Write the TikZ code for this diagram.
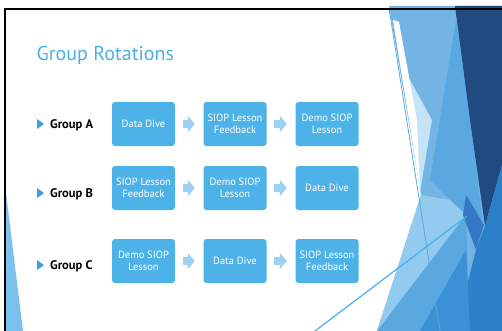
\documentclass[tikz,border=0pt]{standalone}
\usepackage{fontspec}
\setmainfont{PT Sans}
\usetikzlibrary{arrows.meta}
\definecolor{boxblue}{HTML}{4DB2E8}
\definecolor{arrowblue}{HTML}{9DD1F2}
\definecolor{titleblue}{HTML}{4EAEE8}
\definecolor{bulletblue}{HTML}{3F9DE1}
\definecolor{facetlight}{HTML}{74B4E4}
\definecolor{facetmid}{HTML}{5AA8E0}
\definecolor{facetnavy}{HTML}{214A80}
\definecolor{facetpale}{HTML}{C5E3F6}
\definecolor{facetsky}{HTML}{92CBEF}
\definecolor{facetroyal}{HTML}{3478C6}
\definecolor{facetsteel}{HTML}{2B80C8}
\definecolor{facetdeep}{HTML}{3B90D6}
\definecolor{facetleft}{HTML}{7CC0EC}
\tikzset{every node/.style={font=\small},line cap=round,line join=round}

\begin{document}
\begin{tikzpicture}[x=1pt,y=-1pt,
    stepbox/.style={fill=boxblue,rounded corners=3pt,minimum width=63pt,minimum height=44pt,
      inner sep=0pt,text=white,align=center,font=\fontsize{10.5}{12.5}\selectfont},
    flow/.style={draw=arrowblue,line width=8pt,line cap=butt,
      -{Triangle[length=7pt,width=16pt]},shorten <=7.5pt,shorten >=8.5pt},
    rowlabel/.style={anchor=base west,inner sep=0pt,font=\fontsize{12.5}{14}\selectfont\bfseries}]
  \path[use as bounding box] (0,0) rectangle (502,331);

  % facets on the right
  \fill[facetlight] (389,6) -- (502,6) -- (502,331) -- (377,331) -- (421,195) -- cycle;
  \fill[facetpale] (410,80) -- (432,120) -- (420,192) -- cycle;
  \fill[white] (393,20) -- (399,22) -- (417,120) -- (420,190) -- cycle;
  \fill[facetmid] (456,20) -- (470,120) -- (483,223) -- (465,215) -- (430,180) -- cycle;
  \fill[facetsky] (421,195) -- (450,200) -- (466,215) -- (377,331) -- cycle;
  \fill[facetmid] (377,331) -- (466,215) -- (470,331) -- cycle;
  \fill[facetnavy] (455,6) -- (502,6) -- (502,165) -- (485,226) -- (470,120) -- cycle;
  \fill[facetroyal] (466,195) -- (484,225) -- (476,250) -- (463,215) -- cycle;
  \fill[facetsteel] (485,226) -- (502,165) -- (502,331) -- (455,331) -- (476,250) -- cycle;
  \fill[facetdeep] (420,331) -- (466,250) -- (470,331) -- cycle;
  \draw[facetmid,line width=0.8pt] (389,8) -- (440,331);
  \draw[titleblue,line width=1.2pt] (315,331) -- (467,216);
  \fill[facetleft] (6,193) -- (6,331) -- (23,331) -- cycle;

  % frame
  \draw[line width=1.2pt] (5,331) -- (5,9) -- (502,9);

  \node[anchor=base west,inner sep=0pt,text=titleblue,font=\fontsize{20}{24}\selectfont] (title) at (36.5,60.5) {Group Rotations};

  % row labels
  \foreach \y/\g in {124/A,193/B,265/C}{
    \fill[bulletblue] (37,\y-5) -- (44,\y) -- (37,\y+5) -- cycle;
    \node[rowlabel] (lab\g) at (50,\y+4.5) {Group \g};
  }

  \node[stepbox] (a1) at (143.5,124) {Data Dive};
  \node[stepbox] (a2) at (235,124) {SIOP Lesson\\Feedback};
  \node[stepbox] (a3) at (327,124) {Demo SIOP\\Lesson};
  \node[stepbox] (b1) at (143.5,188) {SIOP Lesson\\Feedback};
  \node[stepbox] (b2) at (235,188) {Demo SIOP\\Lesson};
  \node[stepbox] (b3) at (327,188) {Data Dive};
  \node[stepbox] (c1) at (143.5,261) {Demo SIOP\\Lesson};
  \node[stepbox] (c2) at (235,261) {Data Dive};
  \node[stepbox] (c3) at (327,261) {SIOP Lesson\\Feedback};

  \draw[flow] (a1) -- (a2);
  \draw[flow] (a2) -- (a3);
  \draw[flow] (b1) -- (b2);
  \draw[flow] (b2) -- (b3);
  \draw[flow] (c1) -- (c2);
  \draw[flow] (c2) -- (c3);
\end{tikzpicture}
\end{document}
